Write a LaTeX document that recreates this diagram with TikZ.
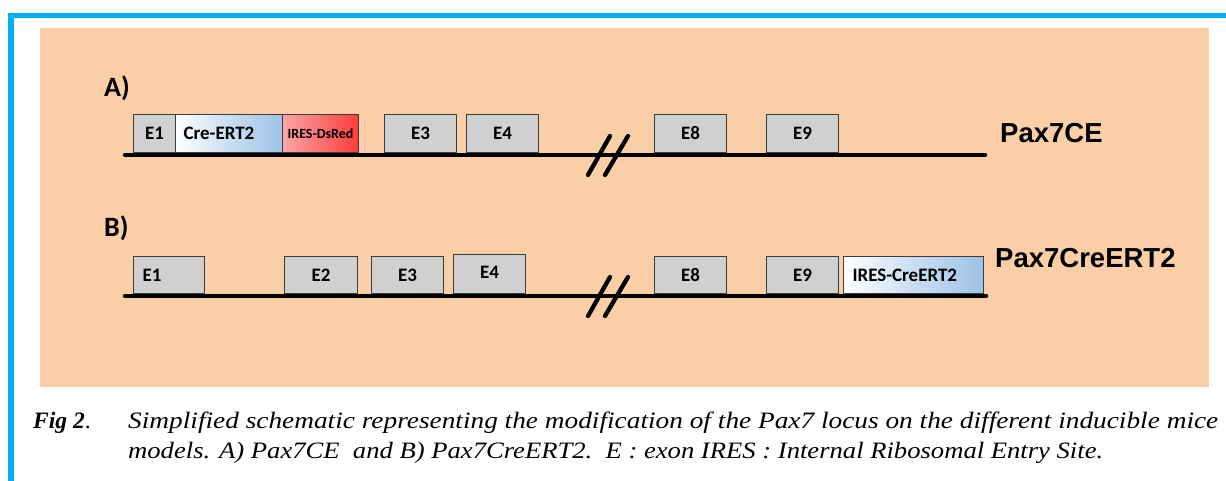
\documentclass[tikz,border=0pt]{standalone}
\usepackage{fontspec}
\usepackage{graphicx}
\setmainfont{Liberation Serif}
\newfontfamily\calfont{Carlito}
\newfontfamily\arialfont{Liberation Sans}
\definecolor{peach}{RGB}{250,207,168}
\definecolor{frameblue}{RGB}{0,176,240}
\definecolor{exongray}{RGB}{208,208,208}
\definecolor{exonedge}{RGB}{60,60,60}
\definecolor{creblue}{RGB}{157,195,230}
\definecolor{redlight}{RGB}{249,165,165}
\definecolor{reddark}{RGB}{255,60,60}
\newlength\capw
\newlength\capwb
\newcommand\capone{Simplified schematic representing the modification of the Pax7 locus on the different inducible mice}
\newcommand\captwo{models. A) Pax7CE\ \ and B) Pax7CreERT2.\ \ E : exon IRES : Internal Ribosomal Entry Site.}
\begin{document}
\settowidth\capw{\fontsize{23.5}{28}\selectfont\itshape \capone}%
\settowidth\capwb{\fontsize{23.5}{28}\selectfont\itshape \captwo}%
\begin{tikzpicture}[x=1pt,y=-1pt,
  exon/.style={draw=exonedge, line width=1.1pt, fill=exongray, inner sep=0pt,
    minimum height=38pt, anchor=south west, font=\calfont\bfseries\fontsize{19}{20}\selectfont},
  creblk/.style={exon, fill=none, left color=white, right color=creblue, middle color=creblue!55},
  redblk/.style={exon, fill=none, left color=redlight, right color=reddark,
    font=\calfont\bfseries\fontsize{14}{15}\selectfont},
  chrom/.style={line width=4.5pt, black, line cap=round},
  slashline/.style={line width=4.3pt, black, line cap=round},
  rowlabel/.style={font=\calfont\bfseries\fontsize{28}{30}\selectfont, anchor=west, inner sep=0pt},
  strain/.style={font=\arialfont\bfseries\fontsize{27.5}{30}\selectfont, anchor=base west, inner sep=0pt},
  captext/.style={font=\fontsize{23.5}{28}\selectfont, anchor=base west, inner sep=0pt}
]
\useasboundingbox (0,0) rectangle (1226,481);
\fill[white] (0,0) rectangle (1226,481);
\fill[peach] (40,28) rectangle (1209,387);
\draw[frameblue, line width=5.5pt] (8,15.5) -- (1226,15.5);
\draw[frameblue, line width=6pt] (11,13) -- (11,481);

% Row A
\node[rowlabel] (labA) at (104,88) {A)};
\coordinate (a0) at (125,155);
\coordinate (a1) at (985,155);
\draw[chrom] (a0) -- (a1);
\node[exon, minimum width=42pt] (aE1) at (133,153) {E1};
\node[creblk, minimum width=107pt, text width=91pt, inner xsep=8pt, align=left] (aCre) at (175,153) {Cre-ERT2};
\node[redblk, minimum width=76pt] (aIres) at (282,153) {IRES-DsRed};
\node[exon, minimum width=72pt] (aE3) at (384,153) {E3};
\node[exon, minimum width=72pt] (aE4) at (466,153) {E4};
\node[exon, minimum width=72pt] (aE8) at (654,153) {E8};
\node[exon, minimum width=72pt] (aE9) at (766,153) {E9};
\coordinate (as1a) at (588,175); \coordinate (as1b) at (610,136);
\coordinate (as2a) at (605,175); \coordinate (as2b) at (628,136);
\draw[slashline] (as1a) -- (as1b);
\draw[slashline] (as2a) -- (as2b);
\node[strain] (pA) at (1000,142.5) {Pax7CE};

% Row B
\node[rowlabel] (labB) at (104,228) {B)};
\coordinate (b0) at (125,296);
\coordinate (b1) at (986,296);
\draw[chrom] (b0) -- (b1);
\node[exon, minimum width=71pt, text width=53pt, inner xsep=9pt, align=left, minimum height=37pt] (bE1) at (133,294) {E1};
\node[exon, minimum width=73pt, minimum height=37pt] (bE2) at (284,294) {E2};
\node[exon, minimum width=72pt, minimum height=37pt] (bE3) at (371,294) {E3};
\node[exon, minimum width=72pt, minimum height=39pt] (bE4) at (453,294) {\raisebox{3pt}{E4}};
\node[exon, minimum width=72pt, minimum height=37pt] (bE8) at (654,294) {E8};
\node[exon, minimum width=72pt, minimum height=37pt] (bE9) at (766,294) {E9};
\node[creblk, minimum width=140pt, text width=122pt, inner xsep=9pt, align=left, minimum height=37pt] (bIres) at (843,294) {IRES-CreERT2};
\coordinate (bs1a) at (588,316); \coordinate (bs1b) at (610,277);
\coordinate (bs2a) at (605,316); \coordinate (bs2b) at (628,277);
\draw[slashline] (bs1a) -- (bs1b);
\draw[slashline] (bs2a) -- (bs2b);
\node[strain] (pB) at (995,267) {Pax7CreERT2};

% Caption
\pgfmathsetmacro\capsx{1090pt/\capw}
\pgfmathsetmacro\capsxb{975pt/\capwb}
\node[captext] (fig) at (33,428) {\textbf{\itshape Fig 2}.};
\node[captext] (cap1) at (128,428) {\scalebox{\capsx}[1]{\itshape \capone}};
\node[captext] (cap2) at (128,458) {\scalebox{\capsxb}[1]{\itshape \captwo}};
\end{tikzpicture}
\end{document}
